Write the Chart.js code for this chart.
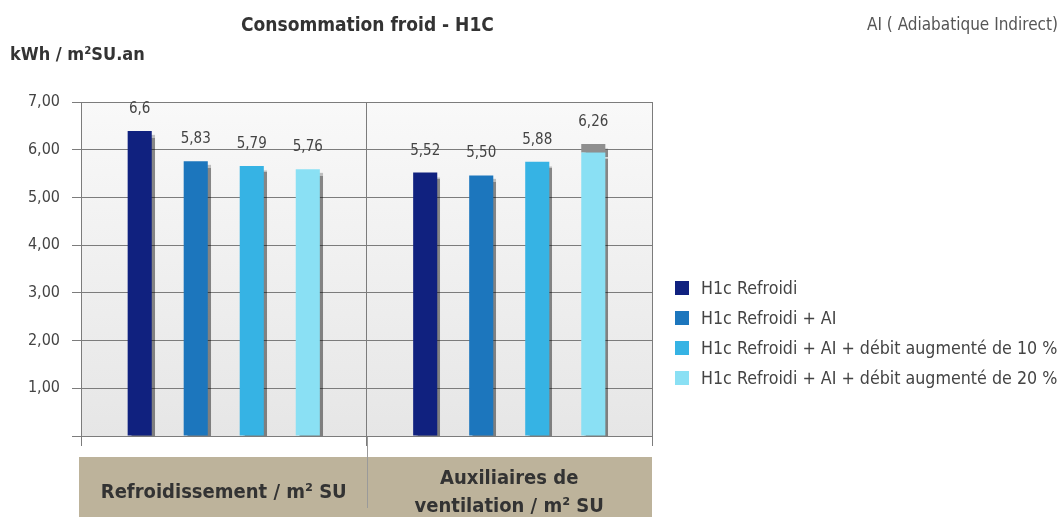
<!DOCTYPE html>
<html>
<head>
<meta charset="utf-8">
<script src="https://cdn.jsdelivr.net/npm/chart.js@4/dist/chart.umd.min.js"></script>
<style>
  body { margin: 0; width: 1064px; height: 517px; background: #fff; overflow: hidden;
         font-family: "Liberation Sans Narrow", "DejaVu Sans Condensed", Roboto, sans-serif; color: #333; }
  #wrap { position: relative; width: 1064px; height: 517px; }
  canvas { position: absolute; left: 0; top: 0; }
  .txt { position: absolute; white-space: nowrap; }
  #title { left: 241px; top: 13px; font-size: 19px; font-weight: bold; color: #333; }
  #unit { left: 10px; top: 43px; font-size: 18px; font-weight: bold; color: #333; }
  #note { right: 6px; top: 14px; font-size: 17px; color: #555; }
  #legend { position: absolute; left: 675px; top: 273px; }
  .item { height: 30px; display: flex; align-items: center; font-size: 17.7px; color: #444; white-space: nowrap; }
  .sw { width: 14px; height: 14px; margin-right: 12px; }
</style>
</head>
<body>
<div id="wrap">
  <canvas id="chart" width="1064" height="517"></canvas>
  <div class="txt" id="title">Consommation froid - H1C</div>
  <div class="txt" id="unit">kWh / m²SU.an</div>
  <div class="txt" id="note">AI ( Adiabatique Indirect)</div>
  <div id="legend"></div>
</div>
<script>
// categories and series
const categories = ['Refroidissement / m² SU', ['Auxiliaires de', 'ventilation / m² SU']];
const seriesNames = [
  'H1c Refroidi',
  'H1c Refroidi + AI',
  'H1c Refroidi + AI + débit augmenté de 10 %',
  'H1c Refroidi + AI + débit augmenté de 20 %'
];
// bar heights as drawn
const refroidi = [6.39, 5.52];
const refroidiAI = [5.76, 5.46];
const debit10 = [5.66, 5.75];
const debit20 = [5.59, 5.94];
const debit20Extra = [null, 0.18];
// printed value labels
const labelsRefroidi = ['6,6', '5,52'];
const labelsRefroidiAI = ['5,83', '5,50'];
const labelsDebit10 = ['5,79', '5,88'];
const labelsDebit20 = ['5,76', '6,26'];
const yTicks = [0, 1, 2, 3, 4, 5, 6, 7];

const colors = ['#10217f', '#1c76bd', '#36b3e4', '#8ae0f4'];
const FONT = '"Liberation Sans Narrow", "DejaVu Sans Condensed", Roboto, sans-serif';
const GRID = '#7c7c7c';

// legend
const legend = document.getElementById('legend');
seriesNames.forEach((name, i) => {
  legend.innerHTML += `<div class="item"><span class="sw" style="background:${colors[i]}"></span>${name}</div>`;
});

const valueLabels = [labelsRefroidi, labelsRefroidiAI, labelsDebit10, labelsDebit20];

const decor = {
  id: 'decor',
  beforeDraw(chart) {
    const { ctx, chartArea: a } = chart;
    const g = ctx.createLinearGradient(0, a.top, 0, a.bottom);
    g.addColorStop(0, '#f9f9f9');
    g.addColorStop(1, '#e6e6e6');
    ctx.save();
    ctx.fillStyle = g;
    ctx.fillRect(a.left, a.top, a.right - a.left, a.bottom - a.top);
    // category band
    ctx.fillStyle = '#bdb39b';
    ctx.fillRect(a.left - 2, 457, a.right - a.left + 2, 517 - 457);
    const x = chart.scales.x;
    ctx.strokeStyle = '#9a9a9a';
    ctx.lineWidth = 1;
    for (let i = 1; i < categories.length; i++) {
      const px = Math.round((x.getPixelForValue(i - 1) + x.getPixelForValue(i)) / 2) + 0.5;
      ctx.beginPath();
      ctx.moveTo(px, a.bottom);
      ctx.lineTo(px, 508);
      ctx.stroke();
    }
    ctx.restore();
  },
  beforeDatasetsDraw(chart) {
    const ctx = chart.ctx;
    ctx.save();
    ctx.shadowColor = 'rgba(0,0,0,0.45)';
    ctx.shadowOffsetX = 3;
    ctx.shadowOffsetY = 4;
    ctx.shadowBlur = 1;
  },
  afterDatasetsDraw(chart) {
    const ctx = chart.ctx;
    ctx.restore();
    ctx.save();
    ctx.font = '15px ' + FONT;
    ctx.fillStyle = '#444';
    ctx.textAlign = 'center';
    ctx.textBaseline = 'middle';
    valueLabels.forEach((labels, d) => {
      const meta = chart.getDatasetMeta(d);
      const stack = chart.data.datasets[d].stack;
      meta.data.forEach((bar, i) => {
        let top = bar.y;
        chart.data.datasets.forEach((ds, k) => {
          if (k !== d && ds.stack === stack && ds.data[i] != null) {
            top = Math.min(top, chart.getDatasetMeta(k).data[i].y);
          }
        });
        ctx.fillText(labels[i], bar.x, top - 22);
      });
    });
    ctx.restore();
  }
};

new Chart(document.getElementById('chart'), {
  type: 'bar',
  data: {
    labels: categories,
    datasets: [
      { label: seriesNames[0], data: refroidi, backgroundColor: colors[0], stack: 's1' },
      { label: seriesNames[1], data: refroidiAI, backgroundColor: colors[1], stack: 's2' },
      { label: seriesNames[2], data: debit10, backgroundColor: colors[2], stack: 's3' },
      { label: seriesNames[3], data: debit20, backgroundColor: colors[3], stack: 's4' },
      { label: 'extra', data: debit20Extra, backgroundColor: '#8f8f8f', stack: 's4' }
    ]
  },
  options: {
    responsive: false,
    animation: false,
    devicePixelRatio: 1,
    categoryPercentage: 0.785,
    barPercentage: 0.43,
    layout: { padding: { left: 0, right: 412, top: 102, bottom: 0 } },
    plugins: { legend: { display: false }, tooltip: { enabled: false } },
    scales: {
      x: {
        grid: { offset: true, color: GRID, tickLength: 10, lineWidth: 1 },
        border: { display: false },
        ticks: {
          font: { family: FONT, size: 20, weight: 'bold', lineHeight: 1.4 },
          color: '#333',
          padding: 33,
          crossAlign: 'center',
          maxRotation: 0
        },
        afterFit(s) { s.height = 81; }
      },
      y: {
        stacked: true,
        min: 0,
        max: 7,
        afterBuildTicks(s) { s.ticks = yTicks.map(v => ({ value: v })); },
        grid: { color: GRID, tickLength: 9, lineWidth: 1 },
        border: { color: GRID },
        ticks: {
          padding: 12,
          font: { family: FONT, size: 16 },
          color: '#444',
          callback: v => v === 0 ? '' : v.toFixed(2).replace('.', ',')
        },
        afterFit(s) { s.width = 81; }
      }
    }
  },
  plugins: [decor]
});
</script>
</body>
</html>
